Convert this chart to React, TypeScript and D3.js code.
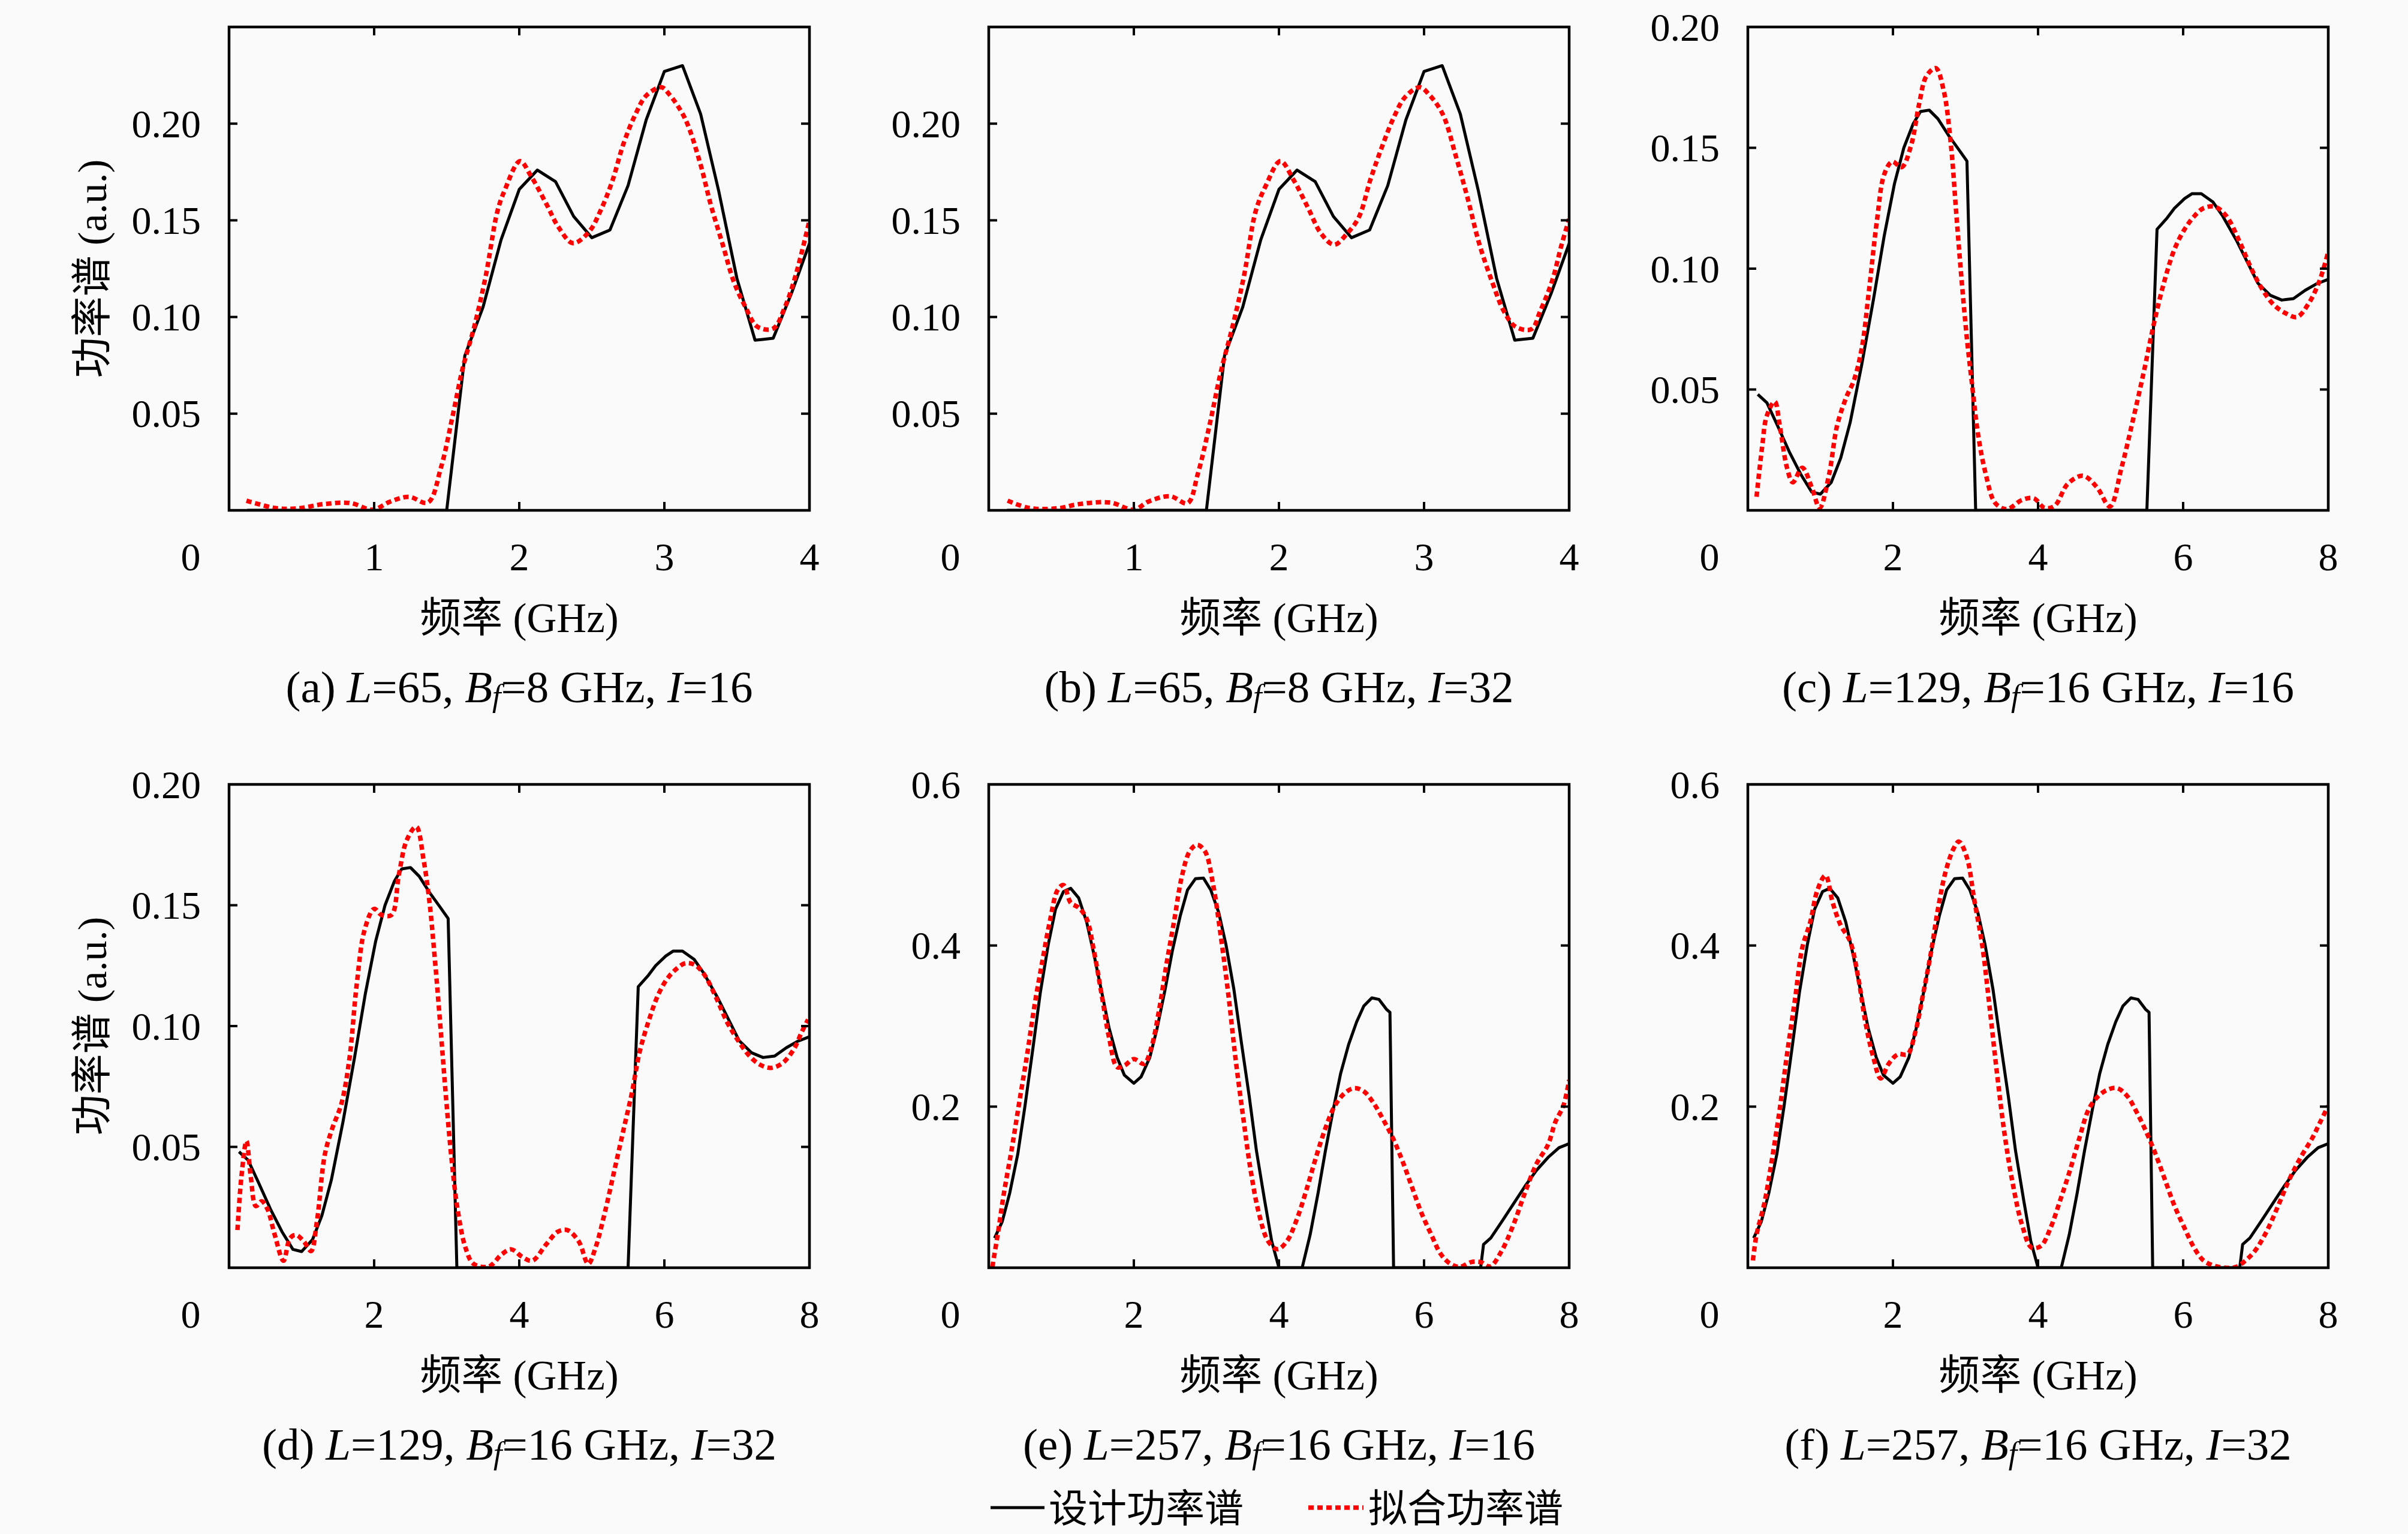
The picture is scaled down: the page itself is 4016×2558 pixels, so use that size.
import React from 'react';
import * as d3 from 'd3';

type Pt = [number, number];

// ---- data (frequency GHz, power a.u.) ----
const designAB: Pt[] = [
  [0.125, 0], [0.25, 0], [0.375, 0], [0.5, 0], [0.625, 0], [0.75, 0], [0.875, 0], [1.0, 0],
  [1.125, 0], [1.25, 0], [1.375, 0], [1.5, 0], [1.625, 0.080], [1.75, 0.105], [1.875, 0.140],
  [2.0, 0.166], [2.125, 0.176], [2.25, 0.170], [2.375, 0.152], [2.5, 0.141], [2.625, 0.145],
  [2.75, 0.168], [2.875, 0.202], [3.0, 0.227], [3.125, 0.230], [3.25, 0.205], [3.375, 0.165],
  [3.5, 0.120], [3.625, 0.088], [3.75, 0.089], [3.875, 0.112], [4.0, 0.138],
];

const fitA: Pt[] = [
  [0.12, 0.005], [0.32, 0.0012], [0.47, 0.001], [0.66, 0.0033], [0.84, 0.0037], [0.99, 0.0003],
  [1.11, 0.0045], [1.24, 0.007], [1.37, 0.004], [1.46, 0.022], [1.54, 0.0485], [1.61, 0.0734],
  [1.69, 0.095], [1.77, 0.1216], [1.85, 0.1548], [1.9, 0.1656], [2.005, 0.1806], [2.08, 0.173],
  [2.19, 0.158], [2.27, 0.1465], [2.37, 0.1382], [2.48, 0.144], [2.56, 0.155], [2.64, 0.17],
  [2.72, 0.19], [2.8, 0.2047], [2.876, 0.2146], [2.98, 0.2188], [3.03, 0.2155], [3.14, 0.203],
  [3.245, 0.18], [3.32, 0.158], [3.4, 0.138], [3.48, 0.118], [3.56, 0.105], [3.64, 0.095],
  [3.75, 0.094], [3.83, 0.105], [3.905, 0.1216], [4.0, 0.15],
];

const fitB: Pt[] = [
  [0.13, 0.005], [0.28, 0.0012], [0.47, 0.001], [0.63, 0.0033], [0.84, 0.004], [1.0, 0.0003],
  [1.1, 0.0045], [1.25, 0.0073], [1.37, 0.0037], [1.44, 0.0186], [1.52, 0.0435], [1.6, 0.0718],
  [1.68, 0.095], [1.76, 0.1216], [1.84, 0.1548], [1.91, 0.168], [2.01, 0.1806], [2.1, 0.171],
  [2.2, 0.1565], [2.29, 0.1432], [2.38, 0.1374], [2.47, 0.1432], [2.55, 0.1515], [2.63, 0.171],
  [2.71, 0.188], [2.79, 0.203], [2.87, 0.2138], [2.97, 0.2188], [3.04, 0.2146], [3.13, 0.2047],
  [3.22, 0.183], [3.3, 0.1615], [3.38, 0.138], [3.47, 0.118], [3.55, 0.103], [3.63, 0.095],
  [3.74, 0.0937], [3.8, 0.103], [3.88, 0.118], [3.95, 0.138], [4.0, 0.1507],
];

const designCD: Pt[] = [
  [0.137, 0.048], [0.263, 0.0445], [0.41, 0.035], [0.57, 0.0243], [0.73, 0.0149], [0.88, 0.0076],
  [1.0, 0.0067], [1.15, 0.0116], [1.28, 0.0216], [1.41, 0.0363], [1.57, 0.0603], [1.73, 0.087],
  [1.88, 0.1136], [2.02, 0.135], [2.15, 0.15], [2.28, 0.16], [2.38, 0.165], [2.5, 0.1656],
  [2.62, 0.162], [2.77, 0.155], [2.9, 0.1496], [3.02, 0.1445], [3.14, 0], [5.5, 0],
  [5.64, 0.1163], [5.78, 0.121], [5.88, 0.125], [6.02, 0.129], [6.12, 0.131], [6.25, 0.131],
  [6.41, 0.1276], [6.54, 0.122], [6.73, 0.112], [6.88, 0.103], [7.03, 0.094], [7.2, 0.089],
  [7.36, 0.087], [7.52, 0.0876], [7.68, 0.091], [7.83, 0.0936], [8.0, 0.0956],
];

const fitC: Pt[] = [
  [0.12, 0.0056], [0.2, 0.027], [0.26, 0.039], [0.37, 0.045], [0.44, 0.035], [0.54, 0.0176],
  [0.62, 0.0116], [0.75, 0.0176], [0.88, 0.0096], [0.99, 0.001], [1.12, 0.0149], [1.23, 0.035],
  [1.36, 0.047], [1.46, 0.0536], [1.57, 0.067], [1.67, 0.091], [1.78, 0.12], [1.88, 0.139],
  [1.99, 0.1443], [2.12, 0.142], [2.25, 0.151], [2.36, 0.168], [2.46, 0.1796], [2.59, 0.183],
  [2.7, 0.1736], [2.8, 0.151], [2.87, 0.124], [2.94, 0.0976], [3.02, 0.071], [3.1, 0.0496],
  [3.17, 0.032], [3.28, 0.0149], [3.41, 0.003], [3.57, 0.0005], [3.78, 0.0043], [3.94, 0.005],
  [4.09, 0.001], [4.23, 0.0019], [4.41, 0.011], [4.62, 0.0143], [4.81, 0.0096], [4.99, 0.0016],
  [5.15, 0.0176], [5.31, 0.0376], [5.46, 0.0576], [5.59, 0.0763], [5.73, 0.0936], [5.88, 0.108],
  [6.02, 0.1163], [6.15, 0.1216], [6.28, 0.125], [6.44, 0.1256], [6.6, 0.1216], [6.78, 0.111],
  [6.94, 0.1], [7.1, 0.091], [7.25, 0.085], [7.41, 0.0816], [7.57, 0.08], [7.73, 0.0856],
  [7.88, 0.095], [8.0, 0.107],
];

const fitD: Pt[] = [
  [0.116, 0.0156], [0.17, 0.0375], [0.24, 0.0524], [0.3, 0.0375], [0.37, 0.0255], [0.45, 0.0275],
  [0.53, 0.0242], [0.63, 0.0136], [0.75, 0.0029], [0.84, 0.0122], [0.92, 0.0136], [1.03, 0.0109],
  [1.13, 0.0069], [1.21, 0.0189], [1.32, 0.0468], [1.42, 0.0574], [1.55, 0.068], [1.66, 0.0867],
  [1.76, 0.1173], [1.87, 0.14], [2.0, 0.1485], [2.1, 0.146], [2.24, 0.146], [2.34, 0.1625],
  [2.45, 0.177], [2.58, 0.1825], [2.68, 0.169], [2.76, 0.152], [2.84, 0.1266], [2.92, 0.0973],
  [2.99, 0.0707], [3.07, 0.0441], [3.15, 0.0242], [3.26, 0.0082], [3.37, 0.0016], [3.58, 0.0005],
  [3.76, 0.0056], [3.89, 0.0076], [4.05, 0.0043], [4.18, 0.0029], [4.37, 0.0096], [4.53, 0.0149],
  [4.66, 0.0156], [4.82, 0.0109], [4.95, 0.0016], [5.05, 0.0082], [5.18, 0.0229], [5.32, 0.0415],
  [5.45, 0.0588], [5.55, 0.072], [5.66, 0.0894], [5.79, 0.1027], [5.92, 0.1133], [6.05, 0.12],
  [6.18, 0.124], [6.29, 0.126], [6.42, 0.1253], [6.55, 0.1213], [6.71, 0.112], [6.87, 0.1013],
  [7.03, 0.0934], [7.18, 0.0874], [7.32, 0.084], [7.47, 0.0827], [7.63, 0.0847], [7.79, 0.0907],
  [7.89, 0.0973], [7.98, 0.1027],
];

const designEF: Pt[] = [
  [0.08, 0.0368], [0.185, 0.057], [0.29, 0.093], [0.4, 0.141], [0.5, 0.201], [0.61, 0.273],
  [0.71, 0.341], [0.82, 0.401], [0.92, 0.445], [1.03, 0.467], [1.13, 0.471], [1.24, 0.459],
  [1.35, 0.429], [1.45, 0.389], [1.56, 0.341], [1.66, 0.297], [1.77, 0.261], [1.87, 0.239],
  [2.0, 0.229], [2.1, 0.237], [2.22, 0.261], [2.32, 0.297], [2.43, 0.345], [2.53, 0.393],
  [2.64, 0.437], [2.74, 0.469], [2.85, 0.483], [2.96, 0.4836], [3.06, 0.469], [3.17, 0.441],
  [3.27, 0.401], [3.38, 0.345], [3.48, 0.281], [3.59, 0.213], [3.69, 0.145], [3.8, 0.085],
  [3.9, 0.033], [4.0, 0], [4.32, 0], [4.43, 0.041], [4.54, 0.093], [4.64, 0.145], [4.75, 0.197],
  [4.85, 0.241], [4.96, 0.277], [5.07, 0.305], [5.17, 0.325], [5.28, 0.335], [5.38, 0.333],
  [5.48, 0.321], [5.53, 0.317], [5.58, 0], [6.78, 0], [6.82, 0.029], [6.92, 0.037], [7.07, 0.057],
  [7.23, 0.079], [7.39, 0.101], [7.55, 0.121], [7.71, 0.137], [7.86, 0.149], [8.0, 0.154],
];

const fitE: Pt[] = [
  [0.05, 0.001], [0.13, 0.045], [0.21, 0.093], [0.32, 0.149], [0.42, 0.205], [0.53, 0.265],
  [0.63, 0.325], [0.74, 0.381], [0.84, 0.429], [0.95, 0.469], [1.03, 0.475], [1.13, 0.453],
  [1.24, 0.447], [1.35, 0.433], [1.45, 0.393], [1.56, 0.337], [1.66, 0.285], [1.77, 0.249],
  [1.87, 0.251], [2.0, 0.259], [2.14, 0.253], [2.24, 0.273], [2.35, 0.321], [2.45, 0.377],
  [2.56, 0.433], [2.66, 0.485], [2.77, 0.517], [2.87, 0.525], [2.98, 0.517], [3.09, 0.477],
  [3.19, 0.417], [3.3, 0.341], [3.4, 0.261], [3.51, 0.185], [3.61, 0.121], [3.72, 0.069],
  [3.85, 0.033], [3.98, 0.023], [4.11, 0.033], [4.25, 0.061], [4.38, 0.097], [4.51, 0.137],
  [4.64, 0.173], [4.77, 0.201], [4.91, 0.217], [5.04, 0.223], [5.17, 0.219], [5.3, 0.205],
  [5.43, 0.185], [5.57, 0.161], [5.7, 0.133], [5.83, 0.101], [5.96, 0.069], [6.1, 0.041],
  [6.23, 0.017], [6.36, 0.005], [6.49, 0.001], [6.65, 0.007], [6.78, 0.007], [6.91, 0.0016],
  [7.07, 0.021], [7.23, 0.053], [7.39, 0.093], [7.55, 0.129], [7.71, 0.153], [7.81, 0.181],
  [7.92, 0.201], [8.0, 0.233],
];

const fitF: Pt[] = [
  [0.07, 0.009], [0.12, 0.041], [0.23, 0.081], [0.33, 0.133], [0.44, 0.197], [0.54, 0.265],
  [0.65, 0.333], [0.75, 0.397], [0.86, 0.429], [0.96, 0.469], [1.07, 0.487], [1.17, 0.453],
  [1.28, 0.425], [1.41, 0.405], [1.52, 0.361], [1.62, 0.305], [1.73, 0.261], [1.83, 0.235],
  [1.94, 0.253], [2.07, 0.265], [2.2, 0.265], [2.31, 0.293], [2.41, 0.337], [2.52, 0.389],
  [2.62, 0.445], [2.73, 0.493], [2.84, 0.521], [2.91, 0.529], [3.02, 0.509], [3.12, 0.457],
  [3.23, 0.401], [3.33, 0.325], [3.44, 0.237], [3.54, 0.165], [3.65, 0.105], [3.78, 0.053],
  [3.91, 0.025], [4.04, 0.027], [4.17, 0.049], [4.31, 0.085], [4.44, 0.121], [4.57, 0.161],
  [4.7, 0.197], [4.83, 0.213], [4.96, 0.221], [5.09, 0.223], [5.23, 0.213], [5.36, 0.193],
  [5.49, 0.169], [5.62, 0.141], [5.75, 0.109], [5.88, 0.077], [6.02, 0.049], [6.15, 0.025],
  [6.28, 0.009], [6.41, 0.003], [6.57, 0], [6.73, 0.001], [6.86, 0.009], [6.99, 0.021],
  [7.15, 0.045], [7.31, 0.077], [7.46, 0.109], [7.62, 0.137], [7.78, 0.161], [7.89, 0.181],
  [8.0, 0.201],
];

// ---- axes / labels ----
const xTicks4 = [1, 2, 3, 4];
const xTicks8 = [2, 4, 6, 8];
const yTicksSmall = [0.05, 0.1, 0.15, 0.2];
const yTicksLarge = [0.2, 0.4, 0.6];
const panelLetters = ['a', 'b', 'c', 'd', 'e', 'f'];
const lengthL = [65, 65, 129, 129, 257, 257];
const bandBf = [8, 8, 16, 16, 16, 16];
const iterI = [16, 32, 16, 32, 16, 32];
const xLabel = '频率 (GHz)';
const yLabel = '功率谱 (a.u.)';
const legendNames = ['设计功率谱', '拟合功率谱'];

const designs = [designAB, designAB, designCD, designCD, designEF, designEF];
const fits = [fitA, fitB, fitC, fitD, fitE, fitF];
const xMaxes = [4, 4, 8, 8, 8, 8];
const yMaxes = [0.25, 0.25, 0.2, 0.2, 0.6, 0.6];
const xTickSets = [xTicks4, xTicks4, xTicks8, xTicks8, xTicks8, xTicks8];
const yTickSets = [yTicksSmall, yTicksSmall, yTicksSmall, yTicksSmall, yTicksLarge, yTicksLarge];
const yDecimals = [2, 2, 2, 2, 1, 1];

// ---- layout ----
const W = 4016;
const H = 2558;
const colLeft = [382, 1649, 2915];
const rowTop = [45, 1308];
const PW = 968;
const PH = 806;
const SERIF = "'Liberation Serif', 'DejaVu Serif', serif";
const MIXED = "'Liberation Serif', 'Noto Sans CJK SC', serif";
const CJK = "'Noto Sans CJK SC', sans-serif";
const TICK_FS = 66;
const RED = '#ff0000';
const DASH = '9 6';

function Panel({ idx }: { idx: number }) {
  const col = idx % 3;
  const row = Math.floor(idx / 3);
  const x0 = colLeft[col];
  const y0 = rowTop[row];
  const x = d3.scaleLinear().domain([0, xMaxes[idx]]).range([0, PW]);
  const y = d3.scaleLinear().domain([0, yMaxes[idx]]).range([PH, 0]);
  const lin = d3.line<Pt>().x((d) => x(d[0])).y((d) => y(d[1]));
  const smooth = d3
    .line<Pt>()
    .x((d) => x(d[0]))
    .y((d) => y(d[1]))
    .curve(d3.curveCatmullRom.alpha(0.5));
  const fmt = d3.format(`.${yDecimals[idx]}f`);
  const clipId = `clip-${idx}`;
  const tl = 14;
  return (
    <g transform={`translate(${x0},${y0})`}>
      <defs>
        <clipPath id={clipId}>
          <rect x={0} y={-2} width={PW} height={PH + 2} />
        </clipPath>
      </defs>
      <g clipPath={`url(#${clipId})`}>
        <path d={lin(designs[idx]) || ''} fill="none" stroke="#000" strokeWidth={5} strokeLinejoin="round" />
        <path d={smooth(fits[idx]) || ''} fill="none" stroke={RED} strokeWidth={7.5} strokeDasharray={DASH} />
      </g>
      <rect x={0} y={0} width={PW} height={PH} fill="none" stroke="#000" strokeWidth={4.5} />
      {xTickSets[idx].map((t) => (
        <g key={`xt${t}`}>
          <line x1={x(t)} x2={x(t)} y1={PH} y2={PH - tl} stroke="#000" strokeWidth={4} />
          <line x1={x(t)} x2={x(t)} y1={0} y2={tl} stroke="#000" strokeWidth={4} />
          <text x={x(t)} y={PH + 77} textAnchor="middle" dominantBaseline="central" fontFamily={SERIF} fontSize={TICK_FS}>
            {t}
          </text>
        </g>
      ))}
      <text x={-64} y={PH + 77} textAnchor="middle" dominantBaseline="central" fontFamily={SERIF} fontSize={TICK_FS}>
        0
      </text>
      {yTickSets[idx].map((t) => (
        <g key={`yt${t}`}>
          <line x1={0} x2={tl} y1={y(t)} y2={y(t)} stroke="#000" strokeWidth={4} />
          <line x1={PW} x2={PW - tl} y1={y(t)} y2={y(t)} stroke="#000" strokeWidth={4} />
          <text x={-47} y={y(t)} textAnchor="end" dominantBaseline="central" fontFamily={SERIF} fontSize={TICK_FS}>
            {fmt(t)}
          </text>
        </g>
      ))}
      <text x={PW / 2} y={PH + 180} textAnchor="middle" dominantBaseline="central" fontFamily={MIXED} fontSize={69}>
        {xLabel}
      </text>
      <text
        x={PW / 2}
        y={PH + 294}
        textAnchor="middle"
        dominantBaseline="central"
        fontFamily={SERIF}
        fontSize={75}
        style={{ whiteSpace: 'pre' }}
      >
        <tspan>{`(${panelLetters[idx]}) `}</tspan>
        <tspan fontStyle="italic">L</tspan>
        <tspan>{`=${lengthL[idx]}, `}</tspan>
        <tspan fontStyle="italic">B</tspan>
        <tspan fontStyle="italic" fontSize={52} dy={15}>f</tspan>
        <tspan dy={-15}>{`=${bandBf[idx]} GHz, `}</tspan>
        <tspan fontStyle="italic">I</tspan>
        <tspan>{`=${iterI[idx]}`}</tspan>
      </text>
      {col === 0 && (
        <text
          transform={`translate(${154 - x0},${PH / 2}) rotate(-90)`}
          textAnchor="middle"
          dominantBaseline="central"
          fontFamily={MIXED}
          fontSize={68}
        >
          {yLabel}
        </text>
      )}
    </g>
  );
}

export default function App() {
  const ly = 2510;
  return (
    <svg
      width={W}
      height={H}
      viewBox={`0 0 ${W} ${H}`}
      style={{ position: 'absolute', left: 0, top: 0, background: '#fafafa' }}
    >
      <rect x={0} y={0} width={W} height={H} fill="#fafafa" />
      {panelLetters.map((_, i) => (
        <Panel key={i} idx={i} />
      ))}
      <line x1={1652} x2={1742} y1={ly + 4} y2={ly + 4} stroke="#000" strokeWidth={5} />
      <text x={1749} y={ly} dominantBaseline="central" fontFamily={CJK} fontSize={65}>
        {legendNames[0]}
      </text>
      <line x1={2182} x2={2274} y1={ly + 4} y2={ly + 4} stroke={RED} strokeWidth={7.5} strokeDasharray={DASH} />
      <text x={2282} y={ly} dominantBaseline="central" fontFamily={CJK} fontSize={65}>
        {legendNames[1]}
      </text>
    </svg>
  );
}
